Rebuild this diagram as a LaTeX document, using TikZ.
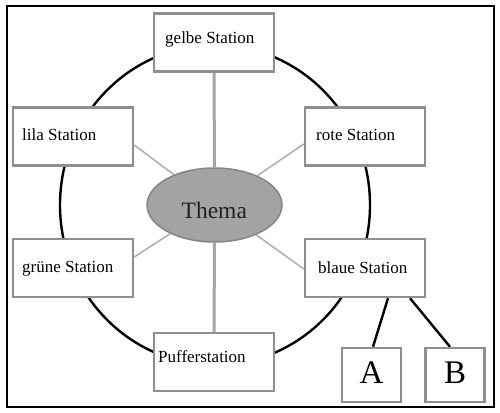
\documentclass[tikz,border=0pt]{standalone}
\usepackage{fontspec}
\setmainfont{Liberation Serif}
\usetikzlibrary{backgrounds,shapes.geometric}
\definecolor{boxgray}{HTML}{8F8F8F}
\definecolor{spokegray}{HTML}{A6A6A6}
\definecolor{diaggray}{HTML}{B0B0B0}
\definecolor{themafill}{HTML}{A3A3A3}
\definecolor{themadraw}{HTML}{858585}
\definecolor{thematext}{HTML}{222222}
\tikzset{
  stationbox/.style={draw=boxgray, line width=2.4pt, fill=white, minimum width=120pt, minimum height=58pt, inner sep=0pt},
  smallbox/.style={draw=boxgray, line width=2.4pt, fill=white, minimum width=59pt, minimum height=54pt, inner sep=0pt},
  label/.style={anchor=base west, inner sep=0pt, font=\fontsize{17}{20}\selectfont},
  bigletter/.style={anchor=base, inner sep=0pt, font=\fontsize{33}{36}\selectfont},
  ring/.style={draw=black, line width=2.4pt},
  spoke/.style={draw=spokegray, line width=3pt},
  diag/.style={draw=diaggray, line width=1.6pt},
  branch/.style={draw=black, line width=2.4pt}
}
\begin{document}
\begin{tikzpicture}[x=1pt, y=-1pt]
\useasboundingbox (0,0) rectangle (500,412);
\draw[black, line width=1.2pt] (7,6) rectangle (494,407);
% nodes
\node[stationbox] (gelbe) at (214,42.5) {};
\node[stationbox] (lila) at (73,136.5) {};
\node[stationbox] (rote) at (365,136.5) {};
\node[stationbox] (gruene) at (73,268) {};
\node[stationbox] (blaue) at (365,268) {};
\node[stationbox] (puffer) at (214,362) {};
\node[smallbox] (A) at (371.5,375) {};
\node[smallbox] (B) at (455,375) {};
\node[ellipse, fill=themafill, draw=themadraw, line width=1.5pt, minimum width=135pt, minimum height=74pt, inner sep=0pt] (thema) at (214.5,205) {};
% texts
\node[label] (tgelbe) at (165,43.5) {gelbe Station};
\node[label] (tlila) at (22,140) {lila Station};
\node[label] (trote) at (316,140) {rote Station};
\node[label] (tgruene) at (22,272) {grüne Station};
\node[label] (tblaue) at (318,273) {blaue Station};
\node[label] (tpuffer) at (158,362) {Pufferstation};
\node[anchor=base west, inner sep=0pt, font=\fontsize{23.5}{26}\selectfont, text=thematext] (tthema) at (181.5,218) {Thema};
\node[bigletter] (tA) at (371.5,383) {A};
\node[bigletter] (tB) at (455,383) {B};
% connectors
\begin{scope}[on background layer]
\draw[ring] (215,205) ellipse [x radius=155pt, y radius=160pt];
\draw[spoke] (gelbe.south) -- (thema.north);
\draw[spoke] (thema.south) -- (puffer.north);
\draw[diag] ([yshift=-8.5pt]lila.east) -- (thema);
\draw[diag] ([yshift=-7.5pt]rote.west) -- (thema);
\draw[diag] ([yshift=11pt]gruene.east) -- (thema);
\draw[diag] ([yshift=-1pt]blaue.west) -- (thema);
\draw[branch] ([xshift=23pt]blaue.south) -- ([xshift=1.5pt]A.north);
\draw[branch] ([xshift=45pt]blaue.south) -- ([xshift=-5pt]B.north);
\end{scope}
\end{tikzpicture}
\end{document}
